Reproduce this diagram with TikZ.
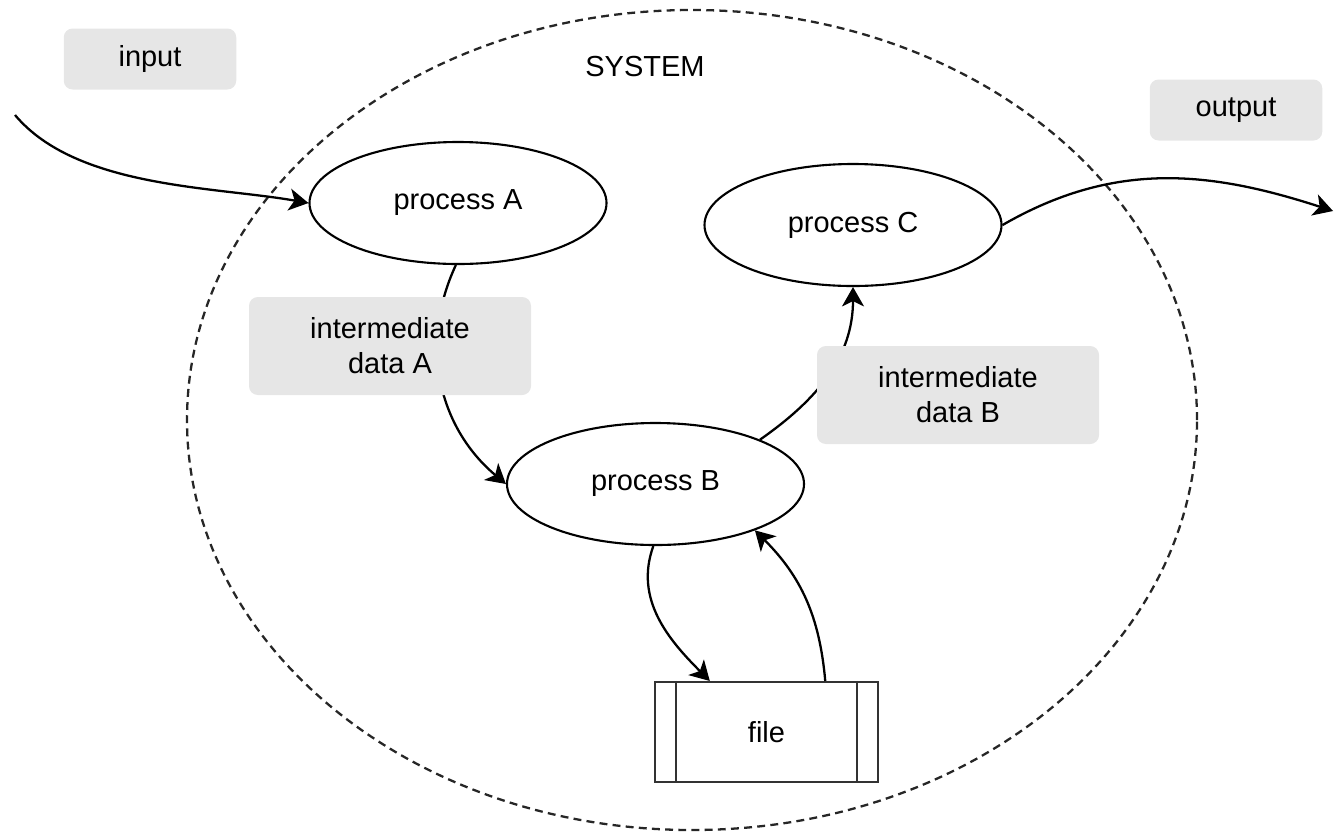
\documentclass[tikz,border=0pt]{standalone}
\usepackage{fontspec}
\setmainfont{Liberation Sans}
\usetikzlibrary{arrows.meta,shapes.geometric}
\definecolor{labelgray}{HTML}{E6E6E6}

\begin{document}
\begin{tikzpicture}[
    proc/.style={ellipse, draw=black, fill=white, line width=1.2pt,
                 minimum width=5.94cm, minimum height=2.44cm, inner sep=0pt,
                 font=\fontsize{16.5}{20}\selectfont},
    tag/.style={rectangle, fill=labelgray, rounded corners=5pt,
                minimum width=3.45cm, minimum height=1.22cm,
                font=\fontsize{16.5}{20}\selectfont},
    datatag/.style={tag, minimum width=5.64cm, minimum height=1.96cm, align=center},
    store/.style={rectangle, draw=black!80, fill=white, line width=1.2pt,
                  minimum width=4.46cm, minimum height=2cm,
                  font=\fontsize{16.5}{20}\selectfont},
    sysline/.style={ellipse, draw=black!85, dash pattern=on 4.5pt off 3pt, line width=1.3pt,
                    minimum width=20.2cm, minimum height=16.4cm},
    arr/.style={-{Stealth[length=11pt, width=12.5pt, inset=3pt]}, line width=1.3pt}
  ]
  \useasboundingbox (0,0) rectangle (26.68,-16.62);
  \node[sysline] (sys) at (13.84,-8.40) {};
  \node[font=\fontsize{16.5}{20}\selectfont] (systxt) at (12.9,-1.34) {SYSTEM};

  \node[tag] (inp) at (3.0,-1.18) {input};
  \node[tag] (outp) at (24.72,-2.2) {output};

  \node[proc] (pa) at (9.16,-4.06) {process A};
  \node[proc] (pc) at (17.06,-4.5) {process C};
  \node[proc] (pb) at (13.11,-9.68) {process B};
  \node[store] (file) at (15.33,-14.64) {file};
  \draw[line width=1.2pt, draw=black!80] ([xshift=0.44cm]file.north west) -- ([xshift=0.44cm]file.south west);
  \draw[line width=1.2pt, draw=black!80] ([xshift=-0.44cm]file.north east) -- ([xshift=-0.44cm]file.south east);

  \coordinate (src) at (0.3,-2.3);
  \coordinate (snk) at (26.66,-4.22);

  \draw[arr] (src) to[out=-50, in=170, looseness=0.8] (pa.west);
  \draw[arr] (pc.east) to[out=30, in=162] (snk);
  \draw[arr] (pa.-92) to[out=-115, in=140] (pb.west);
  \draw[arr] (pb.23) to[out=35, in=-90] (pc.south);
  \draw[arr] (pb.-92) to[out=-110, in=135] (file.138);
  \draw[arr] (file.41) to[out=95, in=-45] (pb.-25);

  \node[datatag] (ida) at (7.8,-6.92) {intermediate\\data A};
  \node[datatag] (idb) at (19.16,-7.9) {intermediate\\data B};
\end{tikzpicture}
\end{document}
